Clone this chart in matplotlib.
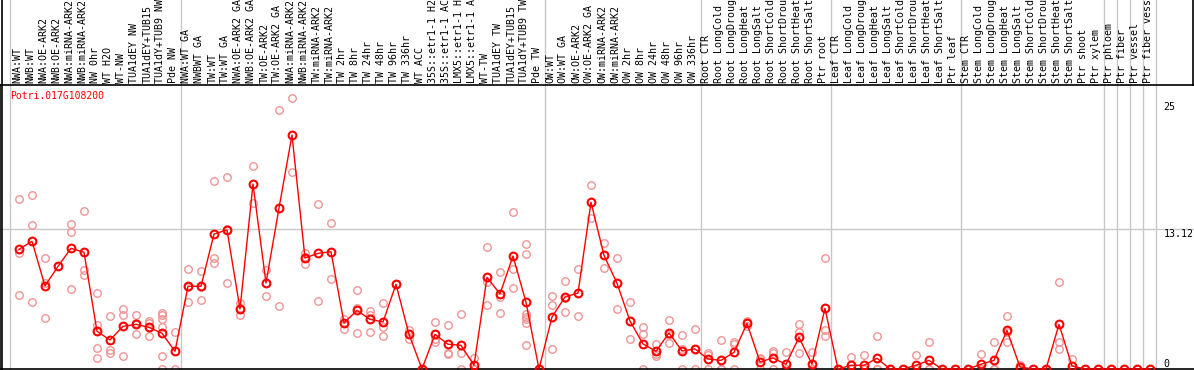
import numpy as np
import matplotlib.pyplot as plt
from matplotlib.lines import Line2D

gene = "Potri.017G108200"

labels = [
    "NWA:WT", "NWB:WT", "NWA:OE-ARK2", "NWB:OE-ARK2", "NWA:miRNA-ARK2", "NWB:miRNA-ARK2",
    "NW 0hr", "WT H2O", "WT-NW", "TUA1dEY NW", "TUA1dEY+TUB15", "TUA1dY+TUB9 NW", "Pde NW",
    "NWA:WT GA", "NWBWT GA", "TW:WT", "TW:WT GA", "NWA:OE-ARK2 GA", "NWB:OE-ARK2 GA",
    "TW:OE-ARK2", "TW:OE-ARK2 GA", "NWA:miRNA-ARK2", "NWB:miRNA-ARK2", "TW:miRNA-ARK2",
    "TW:miRNA-ARK2", "TW 2hr", "TW 8hr", "TW 24hr", "TW 48hr", "TW 96hr", "TW 336hr",
    "WT ACC", "35S::etr1-1 H2O", "35S::etr1-1 ACC", "LMX5::etr1-1 H2O", "LMX5::etr1-1 ACC",
    "WT-TW", "TUA1dEY TW", "TUA1dEY+TUB15", "TUA1dY+TUB9 TW", "Pde TW",
    "OW:WT", "OW:WT GA", "OW:OE-ARK2", "OW:OE-ARK2 GA", "OW:miRNA-ARK2", "OW:miRNA-ARK2",
    "OW 2hr", "OW 8hr", "OW 24hr", "OW 48hr", "OW 96hr", "OW 336hr",
    "Root CTR", "Root LongCold", "Root LongDrought", "Root LongHeat", "Root LongSalt",
    "Root ShortCold", "Root ShortDrought", "Root ShortHeat", "Root ShortSalt", "Ptr root",
    "Leaf CTR", "Leaf LongCold", "Leaf LongDrought", "Leaf LongHeat", "Leaf LongSalt",
    "Leaf ShortCold", "Leaf ShortDrought", "Leaf ShortHeat", "Leaf ShortSalt", "Ptr leaf",
    "Stem CTR", "Stem LongCold", "Stem LongDrought", "Stem LongHeat", "Stem LongSalt",
    "Stem ShortCold", "Stem ShortDrought", "Stem ShortHeat", "Stem ShortSalt", "Ptr shoot",
    "Ptr xylem", "Ptr phloem", "Ptr fiber", "Ptr vessel", "Ptr fiber vessel",
]

means = [
    11.23, 11.98, 7.79, 9.63, 11.32, 10.95, 3.54, 2.72, 4.0, 4.19, 3.91, 3.35, 1.66,
    7.76, 7.76, 12.66, 13.04, 5.63, 17.35, 8.07, 15.10, 21.95, 10.41, 10.85, 11.0,
    4.32, 5.5, 4.66, 4.41, 7.95, 3.25, 0.0, 3.25, 2.32, 2.22, 0.35, 8.6, 7.04, 10.6,
    6.26, 0.0, 4.88, 6.75, 7.13, 15.64, 10.66, 8.04, 4.5, 2.35, 1.66, 3.38, 1.69, 1.88,
    0.94, 0.81, 1.56, 4.28, 0.66, 1.03, 0.44, 2.97, 0.44, 5.69,
    0.0, 0.35, 0.35, 1.0, 0.0, 0.0, 0.35, 0.81, 0.0, 0.0,
    0.0, 0.44, 0.81, 3.63, 0.19, 0.0, 0.0, 4.19, 0.28, 0.0,
    0.0, 0.0, 0.0, 0.0, 0.0,
]

replicates = [
    [15.92, 10.91, 6.91], [16.29, 13.48, 6.29], [10.38, 8.04, 4.75], [9.63],
    [13.6, 12.82, 7.47], [14.79, 9.29, 8.79], [7.1, 4.13, 1.94, 1.0], [4.94, 1.78, 1.47],
    [5.63, 5.03, 1.25], [5.03, 3.25, 4.29], [4.54, 4.28, 3.13], [5.28, 5.03, 4.66, 3.91, 1.2, 0.0],
    [3.44, 0.0], [9.35, 6.26, 7.7], [9.16, 6.44, 7.7], [17.64, 10.41, 9.91], [17.98, 8.04, 13.1],
    [6.16, 5.03, 5.7], [19.01, 15.57], [9.29, 6.85], [24.27, 5.91], [25.39, 18.48],
    [10.85, 9.85, 10.53], [15.45, 6.35], [13.67, 8.41], [4.66, 3.72, 4.32],
    [7.38, 5.75, 3.35], [5.44, 5.03, 3.44], [6.16, 3.97, 3.06], [7.95], [3.66, 2.78],
    [0.0, 0.0], [4.38, 2.56, 2.8], [4.1, 1.38, 1.5], [5.16, 1.47, 0.0], [1.05, 0.0, 0.0],
    [11.41, 8.19, 6.0], [9.07, 6.79, 5.22], [14.7, 9.35, 7.57],
    [11.73, 10.76, 5.16, 4.91, 4.66, 4.28, 2.22], [0.0, 0.0], [6.85, 6.0, 1.88],
    [8.22, 5.35, 6.7], [9.35, 4.94], [17.23, 14.14], [11.79, 9.44, 10.7], [10.38, 5.6],
    [6.26, 2.78], [3.91, 3.25, 0.0], [2.32, 1.38, 1.22], [4.56, 2.41, 3.17], [3.16, 0.0, 1.9],
    [3.72, 0.0, 1.9], [1.47, 0.0, 1.35], [2.72, 0.0, 0.0], [2.5, 2.35, 0.0], [4.5, 4.03, 4.3],
    [1.06, 0.0, 0.9], [1.72, 1.47, 0.0], [1.56, 0.0, 0.0], [4.22, 3.44, 1.47], [1.56, 0.0, 0.0],
    [10.38, 3.66, 3.1],
    [0.0, 0.0], [1.09, 0.0, 0.0], [1.28, 0.0, 0.0], [3.06, 0.0, 0.0], [0.0, 0.0],
    [0.0, 0.0], [1.28, 0.0, 0.0], [2.5, 0.0, 0.0], [0.0, 0.0], [0.0, 0.0],
    [0.0, 0.0], [1.38, 0.0, 0.0], [2.5, 0.0, 0.0], [4.94, 2.5, 3.47], [0.35, 0.0, 0.0],
    [0.0, 0.0], [0.0, 0.0], [8.13, 2.5, 1.85], [0.91, 0.0, 0.0], [0.0, 0.0],
    [0.0], [0.0], [0.0], [0.0], [0.0],
]

# group separators: index of last sample in each block
group_ends = [12, 40, 52, 62, 72, 83, 84, 85, 86, 87]
y_ticks = [25, 13.12, 0]

mono = "DejaVu Sans Mono"
red = "#ff0000"
pink = "#f09494"
grid = "#c8c8c8"

fig = plt.figure(figsize=(11.94, 3.70), dpi=100)
ax = fig.add_axes([0, 1 / 370, 1, 284 / 370])
x = np.arange(len(labels))
ax.set_xlim(-19 / 13, (1194 - 19) / 13)
ax.set_ylim(0, 26.64)

# gridlines
ax.axhline(13.12, color=grid, lw=1, zorder=0)
sep = [-0.7] + [g + 0.43 for g in group_ends]
for s in sep:
    ax.axvline(s, color=grid, lw=1, zorder=0, ymax=1.3, clip_on=False)

# replicate points
for i, reps in enumerate(replicates):
    ax.plot([i] * len(reps), reps, ls="none", marker="o", ms=5.4, mfc="none",
            mec=pink, mew=1.0, clip_on=False, zorder=2)

ax.plot(x, means, color=red, lw=1, marker="o", ms=5.6, mfc="none", mec=red,
        mew=1.5, clip_on=False, zorder=3)

ax.set_xticks([])
ax.set_yticks([])
ax.spines["right"].set_visible(False)
for side in ["left", "top", "bottom"]:
    ax.spines[side].set_color("black")
    ax.spines[side].set_linewidth(1.2)

# sample labels in header
for i, lab in enumerate(labels):
    ax.text(i - 0.12, 1.007, lab, transform=ax.get_xaxis_transform(), rotation=90,
            ha="center", va="bottom", fontsize=7.2, family=mono, color="black",
            clip_on=False)

ax.text(-0.7, 25.6, gene, color=red, fontsize=7, family=mono, ha="left", va="center")

for t in y_ticks:
    ax.text(88.05, t, f"{t:g}", fontsize=7.2, family=mono, ha="left",
            va="bottom" if t == 0 else "top", color="black")

# header border lines
fig.add_artist(Line2D([0.0017, 0.0017], [0, 1], color="black", lw=1.2))
fig.add_artist(Line2D([0.9992, 0.9992], [285 / 370, 1], color="black", lw=1.2))

fig.savefig("out.png", dpi=100)
